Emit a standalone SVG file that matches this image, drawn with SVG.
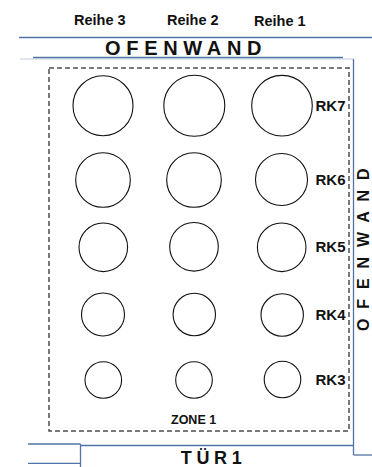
<svg xmlns="http://www.w3.org/2000/svg" width="372" height="467" viewBox="0 0 372 467">
<style>
.t{font-family:"Liberation Sans",Arial,sans-serif;font-weight:bold;fill:#111}
.c{fill:#fff;stroke:#111;stroke-width:1.1}
.w{stroke:#5273a6;stroke-width:1.3;fill:none}
.wl{stroke:#c3d0e4;stroke-width:1.2;fill:none}
.zone{fill:none;stroke:#4d4d4d;stroke-width:1.5;stroke-dasharray:5 3}
.rk{font-size:15px}
</style>
<rect width="372" height="467" fill="#fff"/>
<g id="walls">
<line class="w" x1="19" y1="37.5" x2="372" y2="37.5"/>
<line class="wl" x1="20" y1="59" x2="353.5" y2="59"/>
<line class="w" x1="33" y1="57.5" x2="343" y2="57.5"/>
<line class="w" x1="353.5" y1="59" x2="353.5" y2="455"/>
<line class="w" x1="353.5" y1="455" x2="372" y2="455"/>
<line class="w" x1="80.5" y1="445.5" x2="353.5" y2="445.5"/>
<line class="w" x1="28" y1="444" x2="80.5" y2="444"/>
<line class="w" x1="80.5" y1="444" x2="80.5" y2="467"/>
<line class="w" x1="28" y1="463.3" x2="80.5" y2="463.3"/>
</g>
<g id="labels">
<text class="t" x="74" y="25" font-size="14.5">Reihe 3</text>
<text class="t" x="167" y="25" font-size="14.5">Reihe 2</text>
<text class="t" x="254" y="26" font-size="14.5">Reihe 1</text>
<text class="t" x="105" y="55" font-size="20" letter-spacing="5.7">OFENWAND</text>
<text class="t" transform="translate(368.5,331) rotate(-90)" font-size="16" letter-spacing="9.9">OFENWAND</text>
<text class="t" x="180.7" y="464" font-size="18" letter-spacing="4.7">TÜR1</text>
</g>
<g id="zone1">
<rect class="zone" x="49" y="68" width="300" height="363"/>
<text class="t" x="171" y="424" font-size="12.5">ZONE 1</text>
</g>
<g id="RK7">
<circle class="c" cx="103" cy="105.7" r="30"/>
<circle class="c" cx="194.3" cy="105.7" r="30.5"/>
<circle class="c" cx="282" cy="105.7" r="30.3"/>
<text class="t rk" x="315.5" y="110.7">RK7</text>
</g>
<g id="RK6">
<circle class="c" cx="103" cy="180" r="27.3"/>
<circle class="c" cx="194" cy="180" r="27.3"/>
<circle class="c" cx="281.5" cy="179.5" r="26"/>
<text class="t rk" x="315.5" y="184.5">RK6</text>
</g>
<g id="RK5">
<circle class="c" cx="103.3" cy="247.3" r="24.3"/>
<circle class="c" cx="194" cy="246.8" r="24.3"/>
<circle class="c" cx="281.7" cy="247.3" r="24.3"/>
<text class="t rk" x="315.5" y="252.3">RK5</text>
</g>
<g id="RK4">
<circle class="c" cx="103" cy="314.5" r="21.5"/>
<circle class="c" cx="194.3" cy="314.5" r="21.2"/>
<circle class="c" cx="282.2" cy="315" r="21.2"/>
<text class="t rk" x="315.5" y="320">RK4</text>
</g>
<g id="RK3">
<circle class="c" cx="103.3" cy="380" r="18.3"/>
<circle class="c" cx="194" cy="380" r="18.3"/>
<circle class="c" cx="282.5" cy="379.5" r="18.3"/>
<text class="t rk" x="315.5" y="385">RK3</text>
</g>
</svg>
